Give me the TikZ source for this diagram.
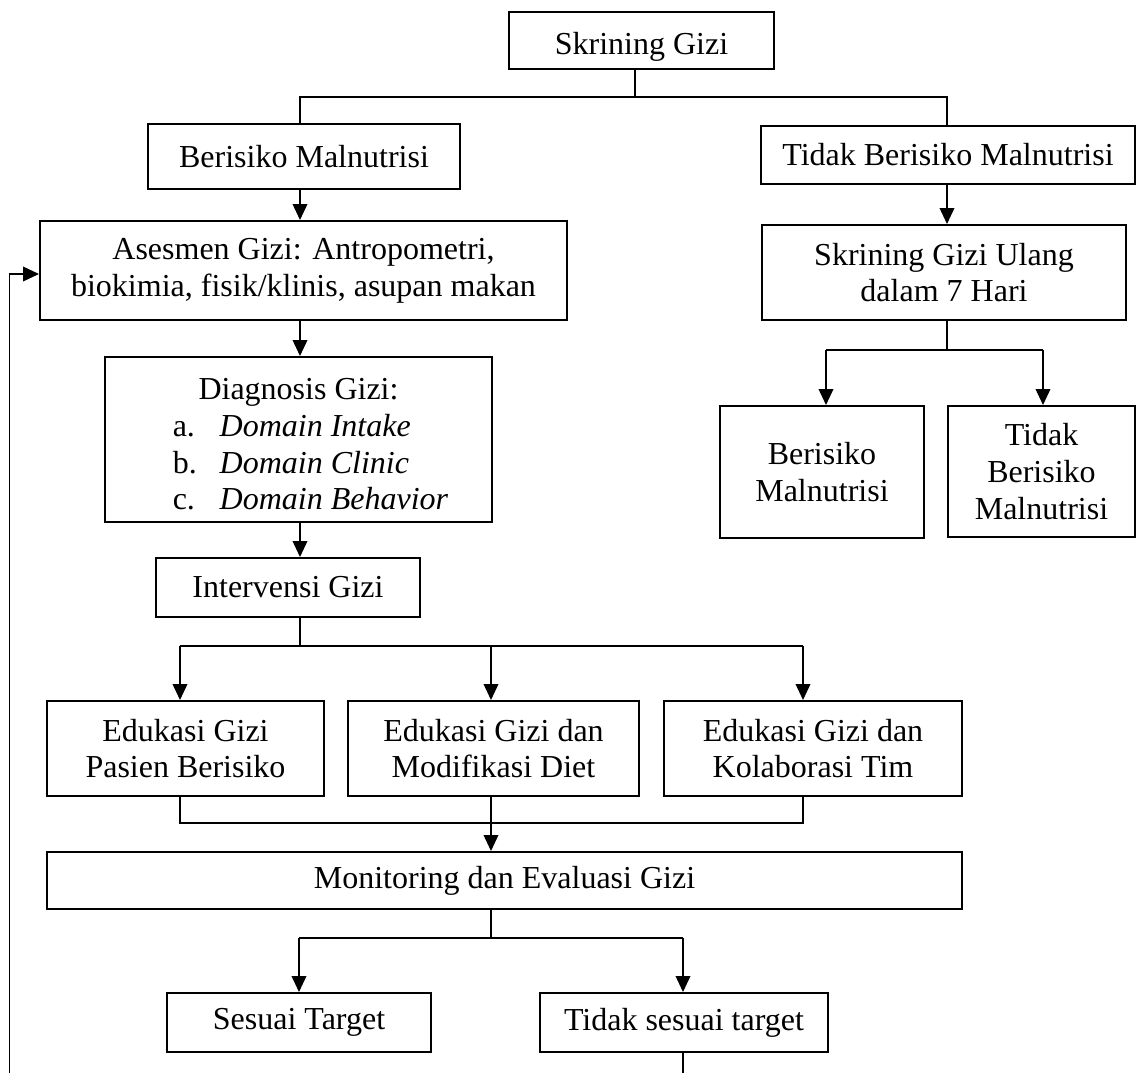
\documentclass[tikz,border=0pt]{standalone}
\usepackage{fontspec}
\setmainfont{Liberation Serif}
\usetikzlibrary{arrows.meta}

\begin{document}
\begin{tikzpicture}[x=0.375pt,y=-0.375pt,
  box/.style 2 args={draw, line width=0.75pt, align=center, inner sep=2pt,
    font=\fontsize{12}{13.8}\selectfont,
    minimum width=#1*0.375pt, minimum height=#2*0.375pt},
  line/.style={line width=0.6pt},
  arr/.style={line width=0.6pt, -{Triangle[length=6pt,width=5.5pt]}}]
  \useasboundingbox (0,0) rectangle (1136,1072); % page size

  \node[box={265}{57}] (sg) at (641.5,40.5) {\rule{0pt}{12.8pt}Skrining Gizi}; % top box
  \node[box={312}{65}] (bm) at (304,156.5) {Berisiko Malnutrisi}; % left branch
  \node[box={374}{58}] (tbm) at (948,155) {Tidak Berisiko Malnutrisi}; % right branch
  \node[box={527}{99}] (as) at (303.5,270.5) {Asesmen Gizi: Antropometri,\\biokimia, fisik/klinis, asupan makan}; % assessment
  \node[box={364}{95}] (sgu) at (944,272.5) {Skrining Gizi Ulang\\dalam 7 Hari}; % rescreening
  \node[box={387}{165}, inner sep=0pt] (dg) at (298.5,439.5) {\rule{0pt}{15.5pt}Diagnosis Gizi:\\\hspace*{9pt}\begin{tabular}[t]{@{}p{17.6pt}@{}l@{}}
    a. & \textit{Domain Intake}\\
    b. & \textit{Domain Clinic}\\
    c. & \textit{Domain Behavior}
  \end{tabular}}; % diagnosis
  \node[box={204}{132}] (b2) at (822,472) {Berisiko\\Malnutrisi}; % rescreening result 1
  \node[box={187}{131}] (t2) at (1041.5,471.5) {Tidak\\Berisiko\\Malnutrisi}; % rescreening result 2
  \node[box={264}{59}] (iv) at (288,587.5) {Intervensi Gizi}; % intervention
  \node[box={277}{95}] (e1) at (185.5,748.5) {Edukasi Gizi\\Pasien Berisiko}; % education 1
  \node[box={291}{95}] (e2) at (493.5,748.5) {Edukasi Gizi dan\\Modifikasi Diet}; % education 2
  \node[box={298}{95}] (e3) at (813,748.5) {Edukasi Gizi dan\\Kolaborasi Tim}; % education 3
  \node[box={915}{57}] (mon) at (504.5,880.5) {Monitoring dan Evaluasi Gizi}; % monitoring
  \node[box={264}{59}] (st) at (299,1022.5) {Sesuai Target}; % on target
  \node[box={288}{59}] (tst) at (684,1022.5) {Tidak sesuai target}; % off target

  \coordinate (tm) at (635,97); % top split
  \coordinate (tl) at (300,97);
  \coordinate (tr) at (947,97);
  \draw[line] (sg.south -| tm) -- (tm); % from screening
  \draw[line] (tl |- bm.north) -- (tl) -- (tr) -- (tr |- tbm.north); % split line
  \draw[arr] (bm.south -| tl) -- (as.north -| tl); % to assessment
  \draw[arr] (as.south -| tl) -- (dg.north -| tl); % to diagnosis
  \draw[arr] (dg.south -| tl) -- (iv.north -| tl); % to intervention
  \draw[arr] (tbm.south -| tr) -- (sgu.north -| tr); % to rescreening

  \coordinate (rl) at (826,350); % rescreening split
  \coordinate (rr) at (1043,350);
  \draw[line] (sgu.south -| tr) -- (tr |- rl);
  \draw[line] (rl) -- (rr);
  \draw[arr] (rl) -- (rl |- b2.north);
  \draw[arr] (rr) -- (rr |- t2.north);

  \coordinate (il) at (180,646); % intervention split
  \coordinate (im) at (491,646);
  \coordinate (ir) at (803,646);
  \draw[line] (iv.south -| tl) -- (tl |- il);
  \draw[line] (il) -- (ir);
  \draw[arr] (il) -- (il |- e1.north);
  \draw[arr] (im) -- (im |- e2.north);
  \draw[arr] (ir) -- (ir |- e3.north);

  \coordinate (jl) at (180,823); % join line
  \coordinate (jm) at (491,823);
  \coordinate (jr) at (803,823);
  \draw[line] (e1.south -| jl) -- (jl) -- (jr) -- (e3.south -| jr);
  \draw[arr] (e2.south -| jm) -- (mon.north -| jm); % to monitoring

  \coordinate (ml) at (299,938); % monitoring split
  \coordinate (mr) at (683,938);
  \draw[line] (mon.south -| jm) -- (jm |- ml);
  \draw[line] (ml) -- (mr);
  \draw[arr] (ml) -- (ml |- st.north);
  \draw[arr] (mr) -- (mr |- tst.north);

  \coordinate (fb) at (9.5,1100); % loop back, below the page
  \coordinate (fa) at (9.5,274);
  \begin{scope}
    \clip (0,0) rectangle (1136,1072);
    \draw[arr] (tst.south -| mr) |- (fb) -- (fa) -- (as.west |- fa);
  \end{scope}
\end{tikzpicture}
\end{document}
